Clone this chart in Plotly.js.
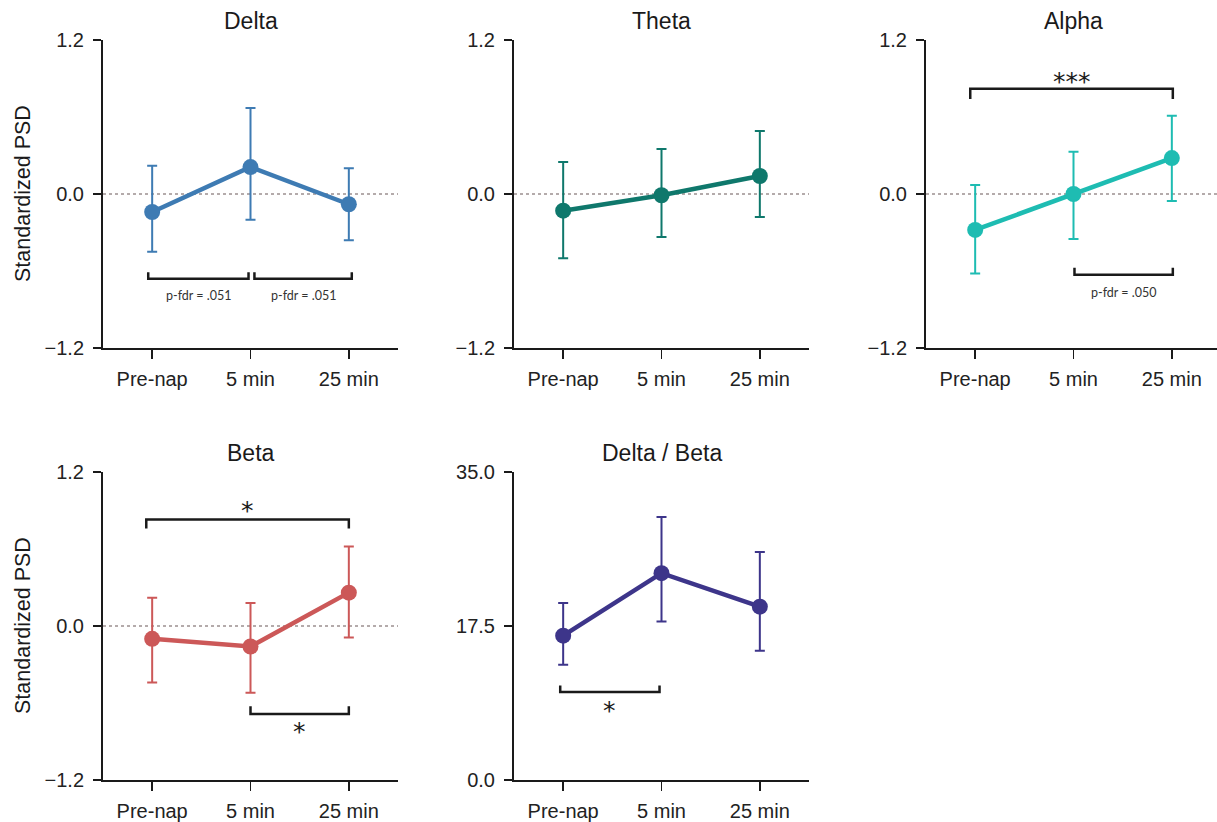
<!DOCTYPE html>
<html>
<head>
<meta charset="utf-8">
<script src="https://cdn.plot.ly/plotly-3.0.1.min.js"></script>
<style>html,body{margin:0;padding:0;background:#fff;}#chart{width:1217px;height:822px;}</style>
</head>
<body>
<div id="chart"></div>
<script>
// ---- data ----
const categories = ['Pre-nap', '5 min', '25 min'];

const deltaMean  = [-0.14, 0.21, -0.08];
const deltaUpper = [0.22, 0.67, 0.20];
const deltaLower = [-0.45, -0.20, -0.36];

const thetaMean  = [-0.13, -0.01, 0.14];
const thetaUpper = [0.25, 0.35, 0.49];
const thetaLower = [-0.50, -0.335, -0.18];

const alphaMean  = [-0.28, 0.00, 0.28];
const alphaUpper = [0.07, 0.33, 0.61];
const alphaLower = [-0.62, -0.35, -0.055];

const betaMean  = [-0.10, -0.16, 0.26];
const betaUpper = [0.22, 0.18, 0.62];
const betaLower = [-0.44, -0.52, -0.09];

const dbMean  = [16.4, 23.5, 19.7];
const dbUpper = [20.1, 29.9, 25.9];
const dbLower = [13.1, 18.0, 14.7];

const panelTitles = ['Delta', 'Theta', 'Alpha', 'Beta', 'Delta / Beta'];
const yTitle = 'Standardized PSD';
const stdTicks = [-1.2, 0.0, 1.2];
const ratioTicks = [0.0, 17.5, 35.0];

// ---- layout helpers ----
const W = 1217, H = 822;
const px = v => v / W;
const py = v => 1 - v / H;

const panels = [
  {mean: deltaMean, up: deltaUpper, lo: deltaLower, color: '#3e7bb3', x0: 103, x1: 398, y0: 40,  y1: 348, ticks: stdTicks, zero: true},
  {mean: thetaMean, up: thetaUpper, lo: thetaLower, color: '#0f786c', x0: 514, x1: 809, y0: 40,  y1: 348, ticks: stdTicks, zero: true},
  {mean: alphaMean, up: alphaUpper, lo: alphaLower, color: '#1ebcb2', x0: 926, x1: 1217, y0: 40, y1: 348, ticks: stdTicks, zero: true},
  {mean: betaMean,  up: betaUpper,  lo: betaLower,  color: '#cc5858', x0: 103, x1: 398, y0: 472, y1: 780, ticks: stdTicks, zero: true},
  {mean: dbMean,    up: dbUpper,    lo: dbLower,    color: '#3d358a', x0: 514, x1: 809, y0: 472, y1: 780, ticks: ratioTicks, zero: false}
];

// significance brackets: panel, from, to, bar level, tick end level, label, label level, label style
const brackets = [
  {p: 0, a: -0.04, b: 0.98, y: -0.66, t: -0.61, label: 'p-fdr = .051', ly: -0.79, small: true},
  {p: 0, a: 1.04,  b: 2.03, y: -0.66, t: -0.61, label: 'p-fdr = .051', ly: -0.79, small: true},
  {p: 2, a: -0.05, b: 2.01, y: 0.82,  t: 0.74,  label: '***', ly: 0.88, small: false},
  {p: 2, a: 1.01,  b: 2.01, y: -0.63, t: -0.575, label: 'p-fdr = .050', ly: -0.77, small: true},
  {p: 3, a: -0.06, b: 2.0,  y: 0.83,  t: 0.76,  label: '*', ly: 0.90, small: false},
  {p: 3, a: 1.0,   b: 2.0,  y: -0.685, t: -0.625, label: '*', ly: -0.82, small: false},
  {p: 4, a: -0.03, b: 0.98, y: 10.0,  t: 10.75, label: '*', ly: 7.9, small: false}
];

const xIdx = categories.map((c, i) => i);
const traces = [];
const layout = {
  width: W, height: H,
  margin: {l: 0, r: 0, t: 0, b: 0},
  paper_bgcolor: '#fff', plot_bgcolor: 'rgba(0,0,0,0)',
  showlegend: false,
  font: {family: 'Liberation Sans, Arial, sans-serif', color: '#222'},
  shapes: [], annotations: []
};

panels.forEach((p, i) => {
  const n = i + 1;
  const xa = 'x' + (n === 1 ? '' : n), ya = 'y' + (n === 1 ? '' : n);
  const xk = 'xaxis' + (n === 1 ? '' : n), yk = 'yaxis' + (n === 1 ? '' : n);
  const xEnd = p.x1 >= W ? 2.5 - (p.x0 + 295 - W) / 98.33 : 2.5;
  traces.push({
    x: xIdx, y: p.mean, xaxis: xa, yaxis: ya,
    type: 'scatter', mode: 'lines+markers',
    line: {color: p.color, width: 4.5},
    marker: {color: p.color, size: 16},
    error_y: {type: 'data', symmetric: false,
      array: p.mean.map((m, k) => p.up[k] - m),
      arrayminus: p.mean.map((m, k) => m - p.lo[k]),
      color: p.color, thickness: 2, width: 5},
    cliponaxis: false, hoverinfo: 'skip'
  });
  layout[xk] = {
    domain: [px(p.x0), Math.min(1, px(p.x1))], anchor: ya,
    range: [-0.5, xEnd], type: 'linear',
    tickvals: xIdx, ticktext: categories,
    showline: true, linecolor: '#1a1a1a', linewidth: 2,
    ticks: 'outside', ticklen: 9, tickwidth: 1.5, tickcolor: '#1a1a1a',
    ticklabelstandoff: 3,
    showgrid: false, zeroline: false, fixedrange: true,
    tickfont: {size: 20, color: '#222'}
  };
  layout[yk] = {
    domain: [py(p.y1), py(p.y0)], anchor: xa,
    range: [p.ticks[0], p.ticks[2]],
    tickvals: p.ticks, tickformat: '.1f',
    showline: true, linecolor: '#1a1a1a', linewidth: 2,
    ticks: 'outside', ticklen: 8, tickwidth: 1.5, tickcolor: '#1a1a1a',
    ticklabelstandoff: 5,
    showgrid: false, zeroline: false, fixedrange: true,
    tickfont: {size: 20, color: '#222'}
  };
  if (p.zero) {
    layout.shapes.push({type: 'line', xref: xa, yref: ya, x0: -0.5, x1: xEnd, y0: 0, y1: 0,
      line: {color: '#9c9090', width: 1.5, dash: 'dot'}, layer: 'below'});
  }
  layout.annotations.push({
    text: panelTitles[i], xref: 'paper', yref: 'paper',
    x: (px(p.x0) + px(p.x0 + 295)) / 2, y: py(p.y0 - 4),
    xanchor: 'center', yanchor: 'bottom', showarrow: false,
    font: {size: 23, color: '#1a1a1a'}
  });
});

[0, 3].forEach(i => {
  const p = panels[i];
  layout.annotations.push({
    text: yTitle, xref: 'paper', yref: 'paper',
    x: px(23), y: py((p.y0 + p.y1) / 2), textangle: -90,
    xanchor: 'center', yanchor: 'middle', showarrow: false,
    font: {size: 21.5, color: '#1a1a1a'}
  });
});

brackets.forEach(b => {
  const n = b.p + 1;
  const xa = 'x' + (n === 1 ? '' : n), ya = 'y' + (n === 1 ? '' : n);
  layout.shapes.push({type: 'path', xref: xa, yref: ya,
    path: `M ${b.a},${b.t} L ${b.a},${b.y} L ${b.b},${b.y} L ${b.b},${b.t}`,
    line: {color: '#1a1a1a', width: 2.5}});
  layout.annotations.push({
    text: b.label, xref: xa, yref: ya, x: (b.a + b.b) / 2, y: b.ly,
    xanchor: 'center', yanchor: 'middle', showarrow: false,
    font: b.small ? {family: 'Lato, Open Sans, sans-serif', size: 12.5, color: '#333'}
                  : {family: 'DejaVu Sans, sans-serif', size: 25, color: '#1a1a1a'}
  });
});

Plotly.newPlot('chart', traces, layout, {displayModeBar: false, staticPlot: true});
</script>
</body>
</html>
